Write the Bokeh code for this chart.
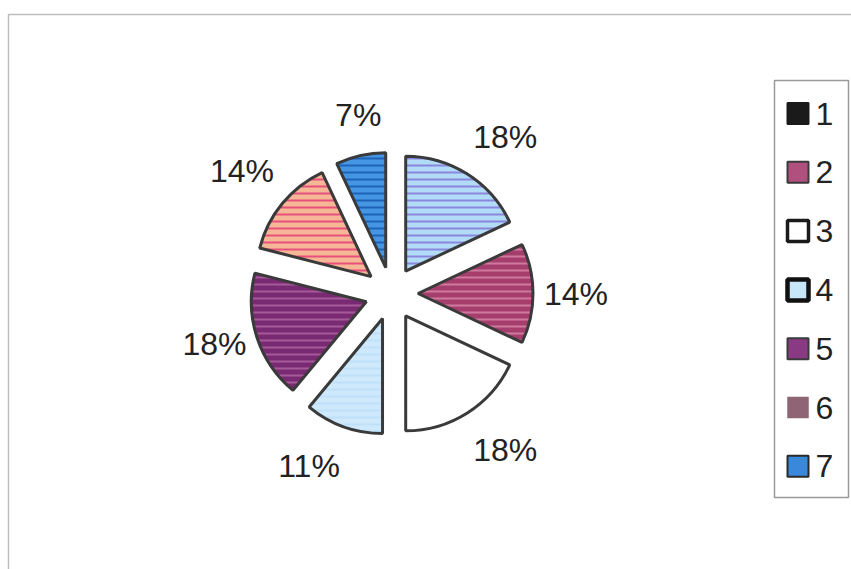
import math
from bokeh.plotting import figure
from bokeh.models import Range1d, ColumnDataSource
from bokeh.core.properties import value
from bokeh.embed import file_html
from bokeh.resources import INLINE

# ---- data ----
categories = ["1", "2", "3", "4", "5", "6", "7"]
percent = [18, 14, 18, 11, 18, 14, 7]
labels = ["18%", "14%", "18%", "11%", "18%", "14%", "7%"]

# ---- styles ----
fill_colors = ["#B2DBF8", "#A63E6D", "#FFFFFF", "#CDE9FB", "#7A2A72", "#F6B797", "#4596E2"]
hatch_colors = ["#8A86DC", "#CF7A9C", "#FFFFFF", "#BFE0F8", "#A55A98", "#E6507A", "#1E62B8"]
legend_fill = ["#1A1A1A", "#B0507E", "#FFFFFF", "#C6E6FA", "#8A3A82", "#8F6575", "#3A88DA"]
legend_line = ["#1A1A1A", "#3A3A3A", "#1A1A1A", "#111111", "#3A3A3A", "#8F6575", "#2A2A2A"]
legend_lw = [2, 2, 3.5, 4.5, 2, 0.5, 2]

W, H = 851, 569
cx, cy = 391, H - 293      # pie centre (data coords = pixels, y up)
R = 115                    # radius in screen px
D = 26.5                   # explode distance
LRX, LRY = 126, 138        # label anchor distance from exploded centre

total = sum(percent)
xs, ys, starts, ends, lx, ly, aligns, bases = [], [], [], [], [], [], [], []
cum = 0.0
for v in percent:
    a0 = 90 - cum / total * 360
    a1 = 90 - (cum + v) / total * 360
    mid = math.radians((a0 + a1) / 2)
    ux, uy = math.cos(mid), math.sin(mid)
    ex = cx + D * ux
    ey = cy + D * uy
    xs.append(ex)
    ys.append(ey)
    starts.append(math.radians(a0))
    ends.append(math.radians(a1))
    lx.append(ex + LRX * ux)
    ly.append(ey + LRY * uy)
    aligns.append("left" if ux > 0.3 else ("right" if ux < -0.3 else "center"))
    bases.append("middle" if abs(uy) < 0.4 else ("bottom" if uy > 0 else "top"))
    cum += v

src = ColumnDataSource(dict(x=xs, y=ys, start=starts, end=ends, fill=fill_colors,
                            hatch=hatch_colors, lx=lx, ly=ly, label=labels,
                            align=aligns, base=bases, cat=categories))

p = figure(width=W, height=H, x_range=Range1d(0, W), y_range=Range1d(0, H),
           output_backend="svg", toolbar_location=None, min_border=0)
p.axis.visible = False
p.grid.visible = False
p.outline_line_color = None
p.background_fill_color = "white"
p.border_fill_color = "white"

# chart area frame
p.quad(left=[8], right=[W + 10], bottom=[-10], top=[H - 14],
       fill_color=None, line_color="#BDBDBD", line_width=1.5)

p.wedge(x="x", y="y", radius=R, radius_units="screen",
        start_angle="start", end_angle="end", direction="clock",
        fill_color="fill", line_color="#3A3A3A", line_width=3,
        hatch_pattern="horizontal_line", hatch_color="hatch",
        hatch_scale=7, hatch_weight=2, source=src)

p.text(x="lx", y="ly", text="label", source=src, text_align="align",
       text_baseline="base", text_font=value("Liberation Sans"),
       text_font_size="32px", text_color="#222222")

# legend box
p.quad(left=[774], right=[848], bottom=[H - 497], top=[H - 80],
       fill_color="white", line_color="#9A9A9A", line_width=1.5)
n = len(categories)
leg_y = [H - (113 + i * 58.8) for i in range(n)]
leg_src = ColumnDataSource(dict(x=[797.5] * n, y=leg_y, tx=[815] * n,
                                fill=legend_fill, line=legend_line, lw=legend_lw,
                                cat=categories))
p.rect(x="x", y="y", width=21, height=21, fill_color="fill", line_color="line",
       line_width="lw", source=leg_src)
p.text(x="tx", y="y", text="cat", source=leg_src, text_align="left",
       text_baseline="middle", text_font=value("Liberation Sans"),
       text_font_size="32px", text_color="#222222")

open("out.html", "w").write(file_html(p, INLINE))
